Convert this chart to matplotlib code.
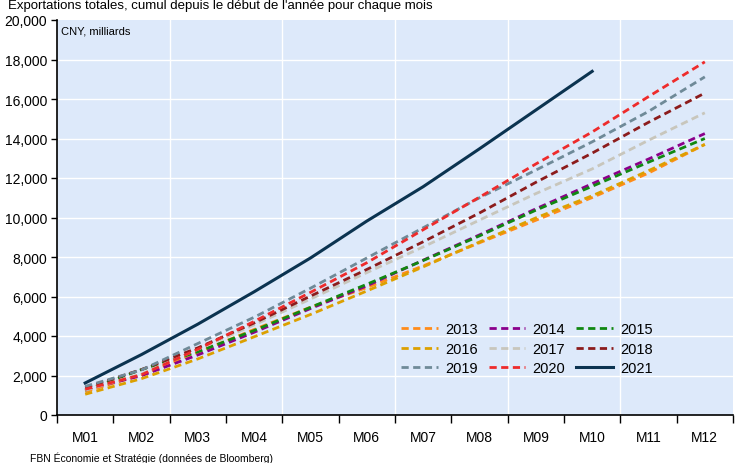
import numpy as np
import matplotlib
matplotlib.use('Agg')
import matplotlib.pyplot as plt

plt.rcParams['font.family'] = ['Liberation Sans', 'DejaVu Sans']

# cumulative exports, CNY billions
months = ['M01', 'M02', 'M03', 'M04', 'M05', 'M06', 'M07', 'M08', 'M09', 'M10', 'M11', 'M12']
y2013 = [1170, 2040, 3170, 4330, 5460, 6450, 7550, 8720, 9860, 11010, 12250, 13700]
y2014 = [1290, 1990, 3040, 4190, 5390, 6540, 7840, 9120, 10440, 11710, 12960, 14250]
y2015 = [1250, 2300, 3200, 4280, 5450, 6620, 7820, 9070, 10370, 11580, 12800, 14000]
y2016 = [1050, 1840, 2840, 3960, 5090, 6280, 7500, 8760, 9980, 11100, 12370, 13700]
y2017 = [1250, 2080, 3330, 4560, 5870, 7210, 8510, 9870, 11210, 12460, 13910, 15300]
y2018 = [1380, 2300, 3400, 4660, 6020, 7370, 8770, 10230, 11780, 13260, 14820, 16300]
y2019 = [1450, 2280, 3620, 4950, 6420, 7950, 9480, 11000, 12400, 13830, 15370, 17120]
y2020 = [1300, 2040, 3330, 4740, 6210, 7710, 9380, 11030, 12710, 14330, 16120, 17880]
y2021 = [1620, 3060, 4600, 6240, 7950, 9820, 11560, 13480, 15440, 17400]

series = [
    ('2013', y2013, '#ff8c1a', '--'),
    ('2014', y2014, '#8b008b', '--'),
    ('2015', y2015, '#118811', '--'),
    ('2016', y2016, '#dca000', '--'),
    ('2017', y2017, '#c8c6bc', '--'),
    ('2018', y2018, '#8c1c1c', '--'),
    ('2019', y2019, '#6f8a98', '--'),
    ('2020', y2020, '#ee2b2b', '--'),
    ('2021', y2021, '#0b3350', '-'),
]

fig = plt.figure(figsize=(7.4, 4.64), dpi=100)
ax = fig.add_axes([57 / 740, 1 - 416 / 464, 676 / 740, 395 / 464])
ax.set_facecolor('#dde9fa')

x = np.arange(len(months))
handles = {}
for name, vals, col, ls in series:
    if ls == '--':
        line, = ax.plot(x[:len(vals)], vals, color=col, lw=2.0, ls=(0, (2.6, 1.6)), zorder=3)
    else:
        line, = ax.plot(x[:len(vals)], vals, color=col, lw=2.2, zorder=4)
    handles[name] = line

ax.set_xlim(-0.5, 11.5)
ax.set_ylim(0, 20000)
ax.set_yticks(np.arange(0, 20001, 2000))
ax.set_yticklabels([f'{v:,}' for v in range(0, 20001, 2000)])
ax.set_xticks(x)
ax.set_xticklabels(months)
ax.set_xticks(np.arange(-0.5, 12, 1), minor=True)
ax.tick_params(axis='x', which='major', length=0, pad=11, labelsize=10)
ax.tick_params(axis='x', which='minor', length=6, width=1, direction='out')
ax.tick_params(axis='y', length=4, width=1, pad=3, labelsize=10)

# grid
for v in range(2000, 20000, 2000):
    ax.axhline(v, color='white', lw=1, zorder=1)
for b in [1.5, 3.5, 5.5, 7.5, 9.5]:
    ax.axvline(b, color='white', lw=1, zorder=1)

for s in ['top', 'right']:
    ax.spines[s].set_visible(False)
ax.spines['left'].set_linewidth(1.2)
ax.spines['bottom'].set_linewidth(1.2)

ax.text(0.006, 0.985, 'CNY, milliards', transform=ax.transAxes, fontsize=8, va='top', ha='left')

order = ['2013', '2016', '2019', '2014', '2017', '2020', '2015', '2018', '2021']
ax.legend([handles[k] for k in order], order, ncol=3, frameon=False, fontsize=10.5,
          loc='upper left', bbox_to_anchor=(394 / 740, 1 - 316 / 464), bbox_transform=fig.transFigure,
          handlelength=2.5, handletextpad=0.5, columnspacing=0.75, labelspacing=0.38, borderpad=0)

fig.text(8 / 740, 1 - 6 / 464, "Exportations totales, cumul depuis le début de l'année pour chaque mois",
         fontsize=9.5, va='center', ha='left')
fig.text(30 / 740, 1 - 458 / 464, 'FBN Économie et Stratégie (données de Bloomberg)',
         fontsize=7.5, va='center', ha='left')

fig.savefig('out.png', dpi=100)
